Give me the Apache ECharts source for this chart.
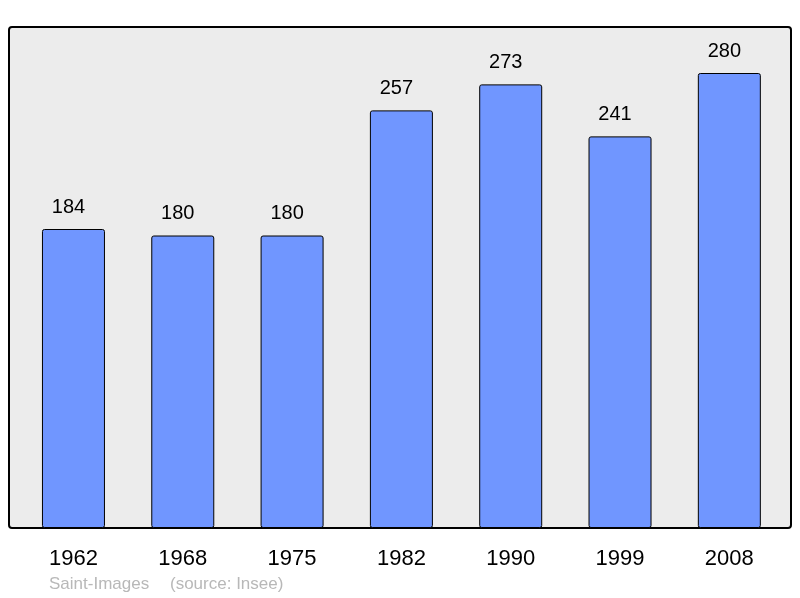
<!DOCTYPE html>
<html>
<head>
<meta charset="utf-8">
<script src="https://cdn.jsdelivr.net/npm/echarts@6/dist/echarts.min.js"></script>
<style>
html, body { margin: 0; padding: 0; background: #fff; }
#chart { width: 800px; height: 598px; }
</style>
</head>
<body>
<div id="chart"></div>
<script>
var years = ["1962", "1968", "1975", "1982", "1990", "1999", "2008"];
var population = [184, 180, 180, 257, 273, 241, 280];

var chart = echarts.init(document.getElementById("chart"));
chart.setOption({
    animation: false,
    textStyle: {fontFamily: "Liberation Sans, Arial, sans-serif"},
    graphic: [
        {
            type: "rect",
            z: -10,
            shape: {x: 9, y: 27, width: 782, height: 501, r: 3},
            style: {fill: "#ececec", stroke: "#000", lineWidth: 2}
        },
        {
            type: "text",
            z: 10,
            style: {x: 49, y: 584, text: "Saint-Images", fill: "#b8b8b8",
                font: "17px Liberation Sans", verticalAlign: "middle"}
        },
        {
            type: "text",
            z: 10,
            style: {x: 170, y: 584, text: "(source: Insee)", fill: "#b8b8b8",
                font: "17px Liberation Sans", verticalAlign: "middle"}
        }
    ],
    grid: {left: 18.8, right: 16, top: 40.5, bottom: 70},
    xAxis: {
        type: "category",
        data: years,
        axisLine: {show: false},
        axisTick: {show: false},
        axisLabel: {color: "#000", fontSize: 22, margin: 20}
    },
    yAxis: {
        type: "value",
        min: 0,
        max: 300,
        show: false,
        splitLine: {show: false}
    },
    series: [{
        type: "bar",
        data: population,
        barWidth: 63,
        itemStyle: {color: "#7096ff", borderColor: "#000", borderWidth: 1, borderRadius: 2},
        label: {show: true, position: "top", distance: 12, offset: [-5, 0], color: "#000", fontSize: 20}
    }]
});
</script>
</body>
</html>
